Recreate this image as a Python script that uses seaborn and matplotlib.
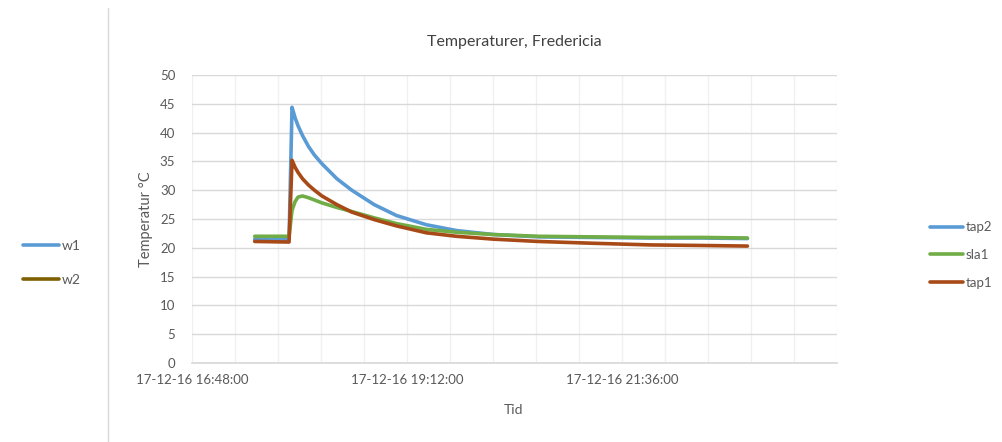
import numpy as np
import pandas as pd
import matplotlib
matplotlib.use("Agg")
import matplotlib.pyplot as plt
from matplotlib.lines import Line2D
import seaborn as sns

# ---- data ----
times = ["17:30", "17:53", "17:55", "17:57", "17:59", "18:02", "18:06", "18:10",
         "18:15", "18:25", "18:35", "18:50", "19:05", "19:25", "19:45", "20:10",
         "20:40", "21:15", "21:55", "22:30", "23:00"]
tap2 = [21.5, 21.5, 44.4, 42.6, 41.2, 39.5, 37.6, 36.1, 34.6, 32.0, 30.0, 27.5,
        25.6, 24.0, 23.0, 22.3, 21.9, 21.8, 21.7, 21.7, 21.6]
sla1 = [22.0, 22.0, 26.5, 28.0, 28.8, 29.0, 28.7, 28.3, 27.8, 27.0, 26.3, 25.2,
        24.2, 23.2, 22.7, 22.3, 22.0, 21.9, 21.8, 21.8, 21.7]
tap1 = [21.1, 21.0, 35.2, 34.0, 33.1, 32.0, 30.9, 30.0, 29.0, 27.5, 26.2, 24.9,
        23.8, 22.6, 22.0, 21.5, 21.1, 20.8, 20.5, 20.4, 20.3]
series_names = ["tap2", "sla1", "tap1"]
series_colors = ["#5B9BD5", "#70AD47", "#A84A17"]
other_names = ["w1", "w2"]
other_colors = ["#5B9BD5", "#7F6000"]
xtick_labels = ["17-12-16 16:48:00", "17-12-16 19:12:00", "17-12-16 21:36:00"]
title = "Temperaturer, Fredericia"
ylabel = "Temperatur \u00b0C"
xlabel = "Tid"

rows = []
for name, vals in zip(series_names, [tap2, sla1, tap1]):
    for t, v in zip(times, vals):
        rows.append({"time": pd.Timestamp("2016-12-17 " + t), "value": v, "series": name})
df = pd.DataFrame(rows)

sns.set_theme(style="white")
plt.rcParams["font.family"] = ["Lato", "DejaVu Sans"]
text_color = "#595959"

fig = plt.figure(figsize=(10.02, 4.42), dpi=100)
ax = fig.add_axes([192 / 1002, 1 - 363 / 442, 645 / 1002, 288 / 442])

sns.lineplot(data=df, x="time", y="value", hue="series", hue_order=series_names,
             palette=series_colors, linewidth=2.6, legend=False, ax=ax, zorder=3)

x0 = pd.Timestamp("2016-12-17 16:48")
x1 = pd.Timestamp("2016-12-18 00:00")
ax.set_xlim(x0, x1)
ax.set_ylim(0, 50)
ax.set_yticks(np.arange(0, 51, 5))
major = [x0 + pd.Timedelta(minutes=144 * i) for i in range(3)]
ax.set_xticks(major)
ax.set_xticklabels(xtick_labels)
minor = [x0 + pd.Timedelta(minutes=28.8 * i) for i in range(16)]
ax.set_xticks(minor, minor=True)

ax.grid(axis="y", which="major", color="#d9d9d9", linewidth=1.0)
ax.grid(axis="x", which="minor", color="#f0f0f0", linewidth=1.0)
ax.grid(axis="x", which="major", color="#f0f0f0", linewidth=1.0)
for s in ["left", "right", "top"]:
    ax.spines[s].set_visible(False)
ax.spines["bottom"].set_color("#d9d9d9")
ax.tick_params(axis="both", which="both", length=0, colors=text_color, labelsize=9.5)
ax.tick_params(axis="y", pad=12)
ax.tick_params(axis="x", pad=8)
ax.set_xlabel("")
ax.set_ylabel("")

fig.text(514 / 1002, 1 - 42 / 442, title, ha="center", va="center",
         fontsize=11.5, color="#404040")
fig.text(146 / 1002, 1 - 219 / 442, ylabel, ha="center", va="center",
         rotation=90, fontsize=10.5, color=text_color)
fig.text(514 / 1002, 1 - 410 / 442, xlabel, ha="center", va="center",
         fontsize=10, color=text_color)

# right legend (this chart's series)
handles = [Line2D([], [], color=c, linewidth=2.6) for c in series_colors]
fig.legend(handles, series_names, loc="center left",
           bbox_to_anchor=(918 / 1002, 1 - 255 / 442), frameon=False,
           handlelength=2.5, handletextpad=0.2, labelspacing=1.2,
           fontsize=9.5, labelcolor=text_color)

# left legend (neighbouring chart's legend, partially visible)
handles2 = [Line2D([], [], color=c, linewidth=2.6) for c in other_colors]
fig.legend(handles2, other_names, loc="center left",
           bbox_to_anchor=(10 / 1002, 1 - 263 / 442), frameon=False,
           handlelength=2.6, handletextpad=0.2, labelspacing=1.55,
           fontsize=10, labelcolor=text_color)

# border of the neighbouring chart area
fig.add_artist(Line2D([108 / 1002, 108 / 1002], [0, 1 - 8 / 442],
                      transform=fig.transFigure, color="#d9d9d9", linewidth=1.0))

fig.savefig("out.png", dpi=100, facecolor="white")
